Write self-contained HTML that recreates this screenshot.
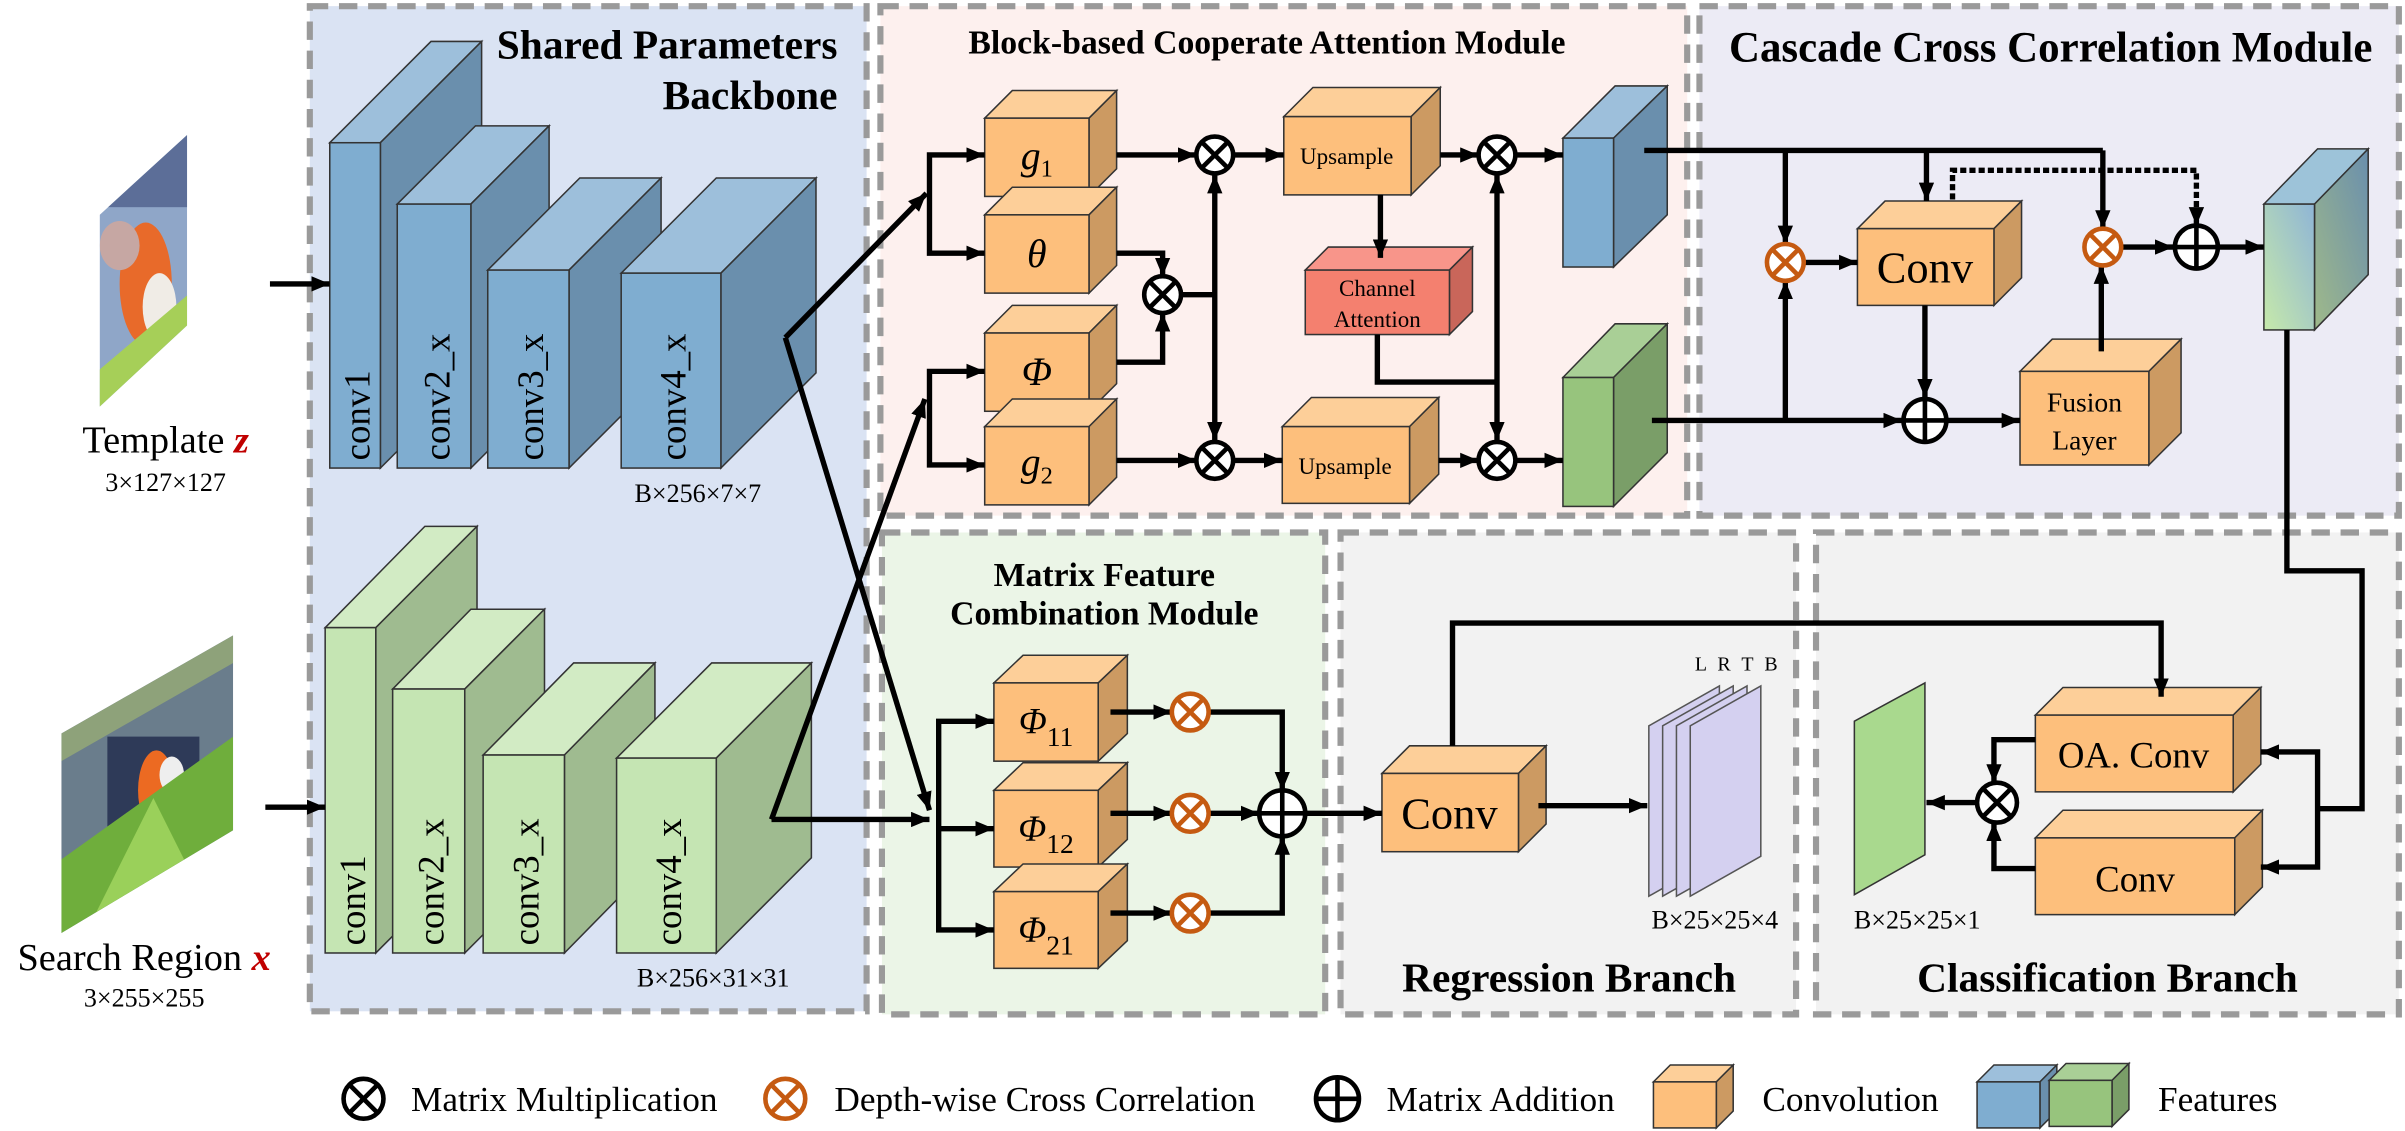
<!DOCTYPE html>
<html><head><meta charset="utf-8">
<style>
html,body{margin:0;padding:0;background:#fff;}
svg{display:block;}
text{font-family:"Liberation Serif",serif;}
</style></head>
<body>
<svg width="2405" height="1131" viewBox="0 0 1568 737" preserveAspectRatio="none" xmlns="http://www.w3.org/2000/svg" font-family="'Liberation Serif', serif">
<defs>
<marker id="a" viewBox="0 0 12 10" refX="12" refY="5" markerWidth="12" markerHeight="10" markerUnits="userSpaceOnUse" orient="auto-start-reverse"><path d="M0,0 L12,5 L0,10 z" fill="#000"/></marker>
<linearGradient id="og" x1="0" y1="1" x2="1" y2="0"><stop offset="0" stop-color="#c6e9aa"/><stop offset="1" stop-color="#8fb5d6"/></linearGradient>
<linearGradient id="ogs" x1="0" y1="1" x2="1" y2="0"><stop offset="0" stop-color="#9fb98a"/><stop offset="1" stop-color="#6a8fad"/></linearGradient>
<clipPath id="ct"><polygon points="65,140 122,88 122,212 65,265"/></clipPath>
<clipPath id="cs"><polygon points="40,478 152,414 152,541 40,608"/></clipPath>
</defs>

<!-- panels -->
<g stroke="#9a9a9a" stroke-width="4" stroke-dasharray="12 7">
<rect x="202" y="4" width="363" height="655" fill="#dae3f3"/>
<rect x="574" y="4" width="526" height="332" fill="#fdf0ee"/>
<rect x="1108" y="4" width="456" height="332" fill="#ecebf5"/>
<rect x="575" y="347" width="289" height="314" fill="#ebf5e7"/>
<rect x="874" y="347" width="297" height="314" fill="#f2f2f2"/>
<rect x="1184" y="347" width="380" height="314" fill="#f2f2f2"/>
</g>

<!-- titles -->
<g font-weight="bold" fill="#000">
<text x="546" y="38" font-size="27" text-anchor="end">Shared Parameters</text>
<text x="546" y="71" font-size="27" text-anchor="end">Backbone</text>
<text x="826" y="35" font-size="22" text-anchor="middle">Block-based Cooperate Attention Module</text>
<text x="1337" y="40" font-size="28" text-anchor="middle">Cascade Cross Correlation Module</text>
<text x="720" y="382" font-size="22" text-anchor="middle">Matrix Feature</text>
<text x="720" y="407" font-size="22" text-anchor="middle">Combination Module</text>
<text x="1023" y="646" font-size="27" text-anchor="middle">Regression Branch</text>
<text x="1374" y="646" font-size="27" text-anchor="middle">Classification Branch</text>
</g>

<!-- input images -->
<g clip-path="url(#ct)">
<rect x="60" y="85" width="70" height="185" fill="#8fa6c8"/>
<rect x="60" y="85" width="70" height="50" fill="#5c6e98"/>
<ellipse cx="95" cy="185" rx="17" ry="40" fill="#e86a2a"/>
<ellipse cx="104" cy="200" rx="11" ry="22" fill="#f0ece6"/>
<ellipse cx="78" cy="160" rx="13" ry="16" fill="#c6a7a3"/>
<polygon points="60,245 125,190 125,270 60,270" fill="#a6cf58"/>
</g>
<g clip-path="url(#cs)">
<rect x="36" y="410" width="120" height="200" fill="#6a7d8c"/>
<polygon points="40,478 152,414 152,432 40,496" fill="#8ea27a"/>
<rect x="70" y="480" width="60" height="60" fill="#2e3a58"/>
<ellipse cx="102" cy="515" rx="12" ry="26" fill="#ec6a22"/>
<ellipse cx="112" cy="505" rx="8" ry="12" fill="#eee"/>
<polygon points="40,560 152,480 152,541 40,610" fill="#6fae3c"/>
<polygon points="60,600 100,520 120,560 80,610" fill="#9ad05a"/>
</g>

<!-- labels left -->
<text x="108" y="295" font-size="25" text-anchor="middle">Template <tspan fill="#c00000" font-style="italic" font-weight="bold">z</tspan></text>
<text x="108" y="320" font-size="17" text-anchor="middle">3×127×127</text>
<text x="94" y="632" font-size="25" text-anchor="middle">Search Region <tspan fill="#c00000" font-style="italic" font-weight="bold">x</tspan></text>
<text x="94" y="656" font-size="17" text-anchor="middle">3×255×255</text>

<!-- backbone blue -->
<g stroke="#333" stroke-width="1">
<polygon points="215,93 281,27 314,27 248,93" fill="#9dbfdb"/><polygon points="248,93 314,27 314,239 248,305" fill="#6a8fad"/><rect x="215" y="93" width="33" height="212" fill="#7fadd0"/>
<polygon points="259,133 310,82 358,82 307,133" fill="#9dbfdb"/><polygon points="307,133 358,82 358,254 307,305" fill="#6a8fad"/><rect x="259" y="133" width="48" height="172" fill="#7fadd0"/>
<polygon points="318,176 378,116 431,116 371,176" fill="#9dbfdb"/><polygon points="371,176 431,116 431,245 371,305" fill="#6a8fad"/><rect x="318" y="176" width="53" height="129" fill="#7fadd0"/>
<polygon points="405,178 467,116 532,116 470,178" fill="#9dbfdb"/><polygon points="470,178 532,116 532,243 470,305" fill="#6a8fad"/><rect x="405" y="178" width="65" height="127" fill="#7fadd0"/>
<polygon points="212,409 277,343 311,343 245,409" fill="#d2ebc4"/><polygon points="245,409 311,343 311,555 245,621" fill="#9fbb90"/><rect x="212" y="409" width="33" height="212" fill="#c5e5b3"/>
<polygon points="256,449 307,397 355,397 303,449" fill="#d2ebc4"/><polygon points="303,449 355,397 355,569 303,621" fill="#9fbb90"/><rect x="256" y="449" width="47" height="172" fill="#c5e5b3"/>
<polygon points="315,492 374,432 427,432 368,492" fill="#d2ebc4"/><polygon points="368,492 427,432 427,561 368,621" fill="#9fbb90"/><rect x="315" y="492" width="53" height="129" fill="#c5e5b3"/>
<polygon points="402,494 464,432 529,432 467,494" fill="#d2ebc4"/><polygon points="467,494 529,432 529,559 467,621" fill="#9fbb90"/><rect x="402" y="494" width="65" height="127" fill="#c5e5b3"/>
</g>
<g font-size="24" fill="#000">
<text transform="translate(241,300) rotate(-90)">conv1</text>
<text transform="translate(293,300) rotate(-90)">conv2_x</text>
<text transform="translate(354,300) rotate(-90)">conv3_x</text>
<text transform="translate(447,300) rotate(-90)">conv4_x</text>
<text transform="translate(238,616) rotate(-90)">conv1</text>
<text transform="translate(289,616) rotate(-90)">conv2_x</text>
<text transform="translate(351,616) rotate(-90)">conv3_x</text>
<text transform="translate(444,616) rotate(-90)">conv4_x</text>
</g>
<text x="455" y="327" font-size="17" text-anchor="middle">B×256×7×7</text>
<text x="465" y="643" font-size="17" text-anchor="middle">B×256×31×31</text>

<!-- orange cubes -->
<g stroke="#333" stroke-width="1">
<polygon points="642,77 660,59 728,59 710,77" fill="#fdcf99"/><polygon points="710,77 728,59 728,110 710,128" fill="#cc9a62"/><rect x="642" y="77" width="68" height="51" fill="#fdbf7c"/>
<polygon points="642,140 660,122 728,122 710,140" fill="#fdcf99"/><polygon points="710,140 728,122 728,173 710,191" fill="#cc9a62"/><rect x="642" y="140" width="68" height="51" fill="#fdbf7c"/>
<polygon points="642,217 660,199 728,199 710,217" fill="#fdcf99"/><polygon points="710,217 728,199 728,250 710,268" fill="#cc9a62"/><rect x="642" y="217" width="68" height="51" fill="#fdbf7c"/>
<polygon points="642,278 660,260 728,260 710,278" fill="#fdcf99"/><polygon points="710,278 728,260 728,311 710,329" fill="#cc9a62"/><rect x="642" y="278" width="68" height="51" fill="#fdbf7c"/>
<polygon points="837,76 856,57 939,57 920,76" fill="#fdcf99"/><polygon points="920,76 939,57 939,108 920,127" fill="#cc9a62"/><rect x="837" y="76" width="83" height="51" fill="#fdbf7c"/>
<polygon points="836,278 855,259 938,259 919,278" fill="#fdcf99"/><polygon points="919,278 938,259 938,309 919,328" fill="#cc9a62"/><rect x="836" y="278" width="83" height="50" fill="#fdbf7c"/>
<polygon points="851,176 866,161 960,161 945,176" fill="#f8958a"/><polygon points="945,176 960,161 960,203 945,218" fill="#c9665a"/><rect x="851" y="176" width="94" height="42" fill="#f4806f"/>
<polygon points="1211,149 1229,131 1318,131 1300,149" fill="#fdcf99"/><polygon points="1300,149 1318,131 1318,181 1300,199" fill="#cc9a62"/><rect x="1211" y="149" width="89" height="50" fill="#fdbf7c"/>
<polygon points="1317,242 1338,221 1422,221 1401,242" fill="#fdcf99"/><polygon points="1401,242 1422,221 1422,282 1401,303" fill="#cc9a62"/><rect x="1317" y="242" width="84" height="61" fill="#fdbf7c"/>
<polygon points="648,445 667,427 735,427 716,445" fill="#fdcf99"/><polygon points="716,445 735,427 735,478 716,496" fill="#cc9a62"/><rect x="648" y="445" width="68" height="51" fill="#fdbf7c"/>
<polygon points="648,515 667,497 735,497 716,515" fill="#fdcf99"/><polygon points="716,515 735,497 735,547 716,565" fill="#cc9a62"/><rect x="648" y="515" width="68" height="50" fill="#fdbf7c"/>
<polygon points="648,581 667,563 735,563 716,581" fill="#fdcf99"/><polygon points="716,581 735,563 735,613 716,631" fill="#cc9a62"/><rect x="648" y="581" width="68" height="50" fill="#fdbf7c"/>
<polygon points="901,504 919,486 1008,486 990,504" fill="#fdcf99"/><polygon points="990,504 1008,486 1008,537 990,555" fill="#cc9a62"/><rect x="901" y="504" width="89" height="51" fill="#fdbf7c"/>
<polygon points="1327,466 1345,448 1474,448 1456,466" fill="#fdcf99"/><polygon points="1456,466 1474,448 1474,498 1456,516" fill="#cc9a62"/><rect x="1327" y="466" width="129" height="50" fill="#fdbf7c"/>
<polygon points="1327,546 1345,528 1475,528 1457,546" fill="#fdcf99"/><polygon points="1457,546 1475,528 1475,578 1457,596" fill="#cc9a62"/><rect x="1327" y="546" width="130" height="50" fill="#fdbf7c"/>
<polygon points="1019,90 1053,56 1087,56 1052,90" fill="#9dbfdb"/><polygon points="1052,90 1087,56 1087,140 1052,174" fill="#6a8fad"/><rect x="1019" y="90" width="33" height="84" fill="#7fadd0"/>
<polygon points="1019,246 1053,211 1087,211 1052,246" fill="#a9cf96"/><polygon points="1052,246 1087,211 1087,295 1052,330" fill="#7a9e68"/><rect x="1019" y="246" width="33" height="84" fill="#97c47d"/>
<polygon points="1476,133 1511,97 1544,97 1509,133" fill="#9dc3d9"/><polygon points="1509,133 1544,97 1544,179 1509,215" fill="url(#ogs)"/><rect x="1476" y="133" width="33" height="82" fill="url(#og)"/>
<polygon points="1075,584 1075,473 1121,447 1121,558" fill="#d4d0f0" stroke="#555"/>
<polygon points="1084,584 1084,473 1130,447 1130,558" fill="#d4d0f0" stroke="#555"/>
<polygon points="1093,584 1093,473 1139,447 1139,558" fill="#d4d0f0" stroke="#555"/>
<polygon points="1102,584 1102,473 1148,447 1148,558" fill="#d4d0f0" stroke="#555"/>
<polygon points="1209,583 1209,470 1255,445 1255,557" fill="#a9d98e" stroke="#333"/>
</g>

<!-- box labels -->
<g fill="#000" text-anchor="middle">
<text x="676" y="110" font-size="26" font-style="italic">g<tspan font-size="16" font-style="normal" dy="5">1</tspan></text>
<text x="676" y="174" font-size="26" font-style="italic">θ</text>
<text x="676" y="251" font-size="26" font-style="italic">Φ</text>
<text x="676" y="310" font-size="26" font-style="italic">g<tspan font-size="16" font-style="normal" dy="5">2</tspan></text>
<text x="878" y="107" font-size="15">Upsample</text>
<text x="877" y="309" font-size="15">Upsample</text>
<text x="898" y="193" font-size="15">Channel</text>
<text x="898" y="213" font-size="15">Attention</text>
<text x="1255" y="184" font-size="29">Conv</text>
<text x="1359" y="268" font-size="18">Fusion</text>
<text x="1359" y="293" font-size="18">Layer</text>
<text x="682" y="478" font-size="24"><tspan font-style="italic">Φ</tspan><tspan font-size="18" dy="8">11</tspan></text>
<text x="682" y="548" font-size="24"><tspan font-style="italic">Φ</tspan><tspan font-size="18" dy="8">12</tspan></text>
<text x="682" y="614" font-size="24"><tspan font-style="italic">Φ</tspan><tspan font-size="18" dy="8">21</tspan></text>
<text x="945" y="540" font-size="29">Conv</text>
<text x="1391" y="500" font-size="24">OA. Conv</text>
<text x="1392" y="581" font-size="24">Conv</text>
<text x="1133" y="437" font-size="13" letter-spacing="2">L R T B</text>
<text x="1118" y="605" font-size="17">B×25×25×4</text>
<text x="1250" y="605" font-size="17">B×25×25×1</text>
</g>

<!-- connectors -->
<g stroke="#000" stroke-width="3.5" fill="none">
<line x1="176" y1="185" x2="215" y2="185" marker-end="url(#a)"/>
<line x1="173" y1="526" x2="212" y2="526" marker-end="url(#a)"/>
<line x1="512" y1="220" x2="604" y2="126" marker-end="url(#a)"/>
<line x1="512" y1="220" x2="606" y2="528" marker-end="url(#a)"/>
<line x1="503" y1="534" x2="603" y2="260" marker-end="url(#a)"/>
<line x1="503" y1="534" x2="606" y2="534" marker-end="url(#a)"/>
<path d="M642,101 H606 V165 H642" marker-start="url(#a)" marker-end="url(#a)"/>
<path d="M642,242 H606 V303 H642" marker-start="url(#a)" marker-end="url(#a)"/>
<line x1="728" y1="101" x2="780" y2="101" marker-end="url(#a)"/>
<line x1="728" y1="300" x2="780" y2="300" marker-end="url(#a)"/>
<path d="M728,165 H758 V180" marker-end="url(#a)"/>
<path d="M728,236 H758 V204" marker-end="url(#a)"/>
<line x1="770" y1="192" x2="792" y2="192"/>
<line x1="792" y1="114" x2="792" y2="287" marker-start="url(#a)" marker-end="url(#a)"/>
<line x1="804" y1="101" x2="837" y2="101" marker-end="url(#a)"/>
<line x1="804" y1="300" x2="836" y2="300" marker-end="url(#a)"/>
<line x1="939" y1="101" x2="964" y2="101" marker-end="url(#a)"/>
<line x1="938" y1="300" x2="964" y2="300" marker-end="url(#a)"/>
<line x1="900" y1="127" x2="900" y2="168" marker-end="url(#a)"/>
<path d="M898,218 V249 H976"/>
<line x1="976" y1="114" x2="976" y2="287" marker-start="url(#a)" marker-end="url(#a)"/>
<line x1="988" y1="101" x2="1019" y2="101" marker-end="url(#a)"/>
<line x1="988" y1="300" x2="1019" y2="300" marker-end="url(#a)"/>
<line x1="1072" y1="98" x2="1371" y2="98"/>
<line x1="1164" y1="98" x2="1164" y2="159" marker-end="url(#a)"/>
<line x1="1256" y1="98" x2="1256" y2="131" marker-end="url(#a)"/>
<line x1="1371" y1="98" x2="1371" y2="149" marker-end="url(#a)"/>
<line x1="1176" y1="171" x2="1211" y2="171" marker-end="url(#a)"/>
<line x1="1255" y1="199" x2="1255" y2="259" marker-end="url(#a)"/>
<line x1="1077" y1="274" x2="1240" y2="274" marker-end="url(#a)"/>
<line x1="1164" y1="274" x2="1164" y2="183" marker-end="url(#a)"/>
<line x1="1270" y1="274" x2="1317" y2="274" marker-end="url(#a)"/>
<line x1="1370" y1="229" x2="1370" y2="173" marker-end="url(#a)"/>
<line x1="1383" y1="161" x2="1417" y2="161" marker-end="url(#a)"/>
<line x1="1447" y1="161" x2="1476" y2="161" marker-end="url(#a)"/>
<path d="M1491,215 V372 H1540 V527 H1511"/>
<path d="M1474,490 H1511 V565 H1474" marker-start="url(#a)" marker-end="url(#a)"/>
<path d="M648,470 H612 V606 H648" marker-start="url(#a)" marker-end="url(#a)"/>
<line x1="612" y1="540" x2="648" y2="540" marker-end="url(#a)"/>
<line x1="724" y1="464" x2="764" y2="464" marker-end="url(#a)"/>
<line x1="724" y1="530" x2="764" y2="530" marker-end="url(#a)"/>
<line x1="724" y1="595" x2="764" y2="595" marker-end="url(#a)"/>
<path d="M788,464 H836 V515" marker-end="url(#a)"/>
<line x1="788" y1="530" x2="821" y2="530" marker-end="url(#a)"/>
<path d="M788,595 H836 V545" marker-end="url(#a)"/>
<line x1="851" y1="530" x2="901" y2="530" marker-end="url(#a)"/>
<path d="M947,486 V406 H1409 V454" marker-end="url(#a)"/>
<line x1="1003" y1="525" x2="1074" y2="525" marker-end="url(#a)"/>
<path d="M1327,482 H1300 V510" marker-end="url(#a)"/>
<path d="M1327,566 H1300 V536" marker-end="url(#a)"/>
<line x1="1289" y1="523" x2="1256" y2="523" marker-end="url(#a)"/>
</g>
<path d="M1273,130 V111 H1432 V147" stroke="#000" stroke-width="3.5" fill="none" stroke-dasharray="4 2" marker-end="url(#a)"/>

<!-- operators -->
<g stroke-width="3" fill="#fff">
<g stroke="#000">
<circle cx="792" cy="101" r="12"/><circle cx="792" cy="300" r="12"/><circle cx="758" cy="192" r="12"/>
<circle cx="976" cy="101" r="12"/><circle cx="976" cy="300" r="12"/><circle cx="1302" cy="523" r="13"/>
<circle cx="237" cy="716" r="13"/>
</g>
<g stroke="#c55a11">
<circle cx="1164" cy="171" r="12"/><circle cx="1371" cy="161" r="12"/>
<circle cx="776" cy="464" r="12"/><circle cx="776" cy="530" r="12"/><circle cx="776" cy="595" r="12"/>
<circle cx="512" cy="716" r="13"/>
</g>
<g stroke="#000">
<circle cx="1255" cy="274" r="14"/><circle cx="1432" cy="161" r="14"/><circle cx="836" cy="530" r="15"/><circle cx="872" cy="716" r="14"/>
</g>
</g>
<g stroke-width="3">
<path stroke="#000" d="M783.5,92.5 l17,17 m0,-17 l-17,17 M783.5,291.5 l17,17 m0,-17 l-17,17 M749.5,183.5 l17,17 m0,-17 l-17,17 M967.5,92.5 l17,17 m0,-17 l-17,17 M967.5,291.5 l17,17 m0,-17 l-17,17 M1293,514 l18,18 m0,-18 l-18,18 M228,707 l18,18 m0,-18 l-18,18"/>
<path stroke="#c55a11" d="M1155.5,162.5 l17,17 m0,-17 l-17,17 M1362.5,152.5 l17,17 m0,-17 l-17,17 M767.5,455.5 l17,17 m0,-17 l-17,17 M767.5,521.5 l17,17 m0,-17 l-17,17 M767.5,586.5 l17,17 m0,-17 l-17,17 M503,707 l18,18 m0,-18 l-18,18"/>
<path stroke="#000" d="M1241,274 h28 M1255,260 v28 M1418,161 h28 M1432,147 v28 M821,530 h30 M836,515 v30 M858,716 h28 M872,702 v28"/>
</g>

<!-- legend -->
<g font-size="23" fill="#000">
<text x="268" y="724">Matrix Multiplication</text>
<text x="544" y="724">Depth-wise Cross Correlation</text>
<text x="904" y="724">Matrix Addition</text>
<text x="1149" y="724">Convolution</text>
<text x="1407" y="724">Features</text>
</g>
<g stroke="#333" stroke-width="1">
<polygon points="1078,705 1089,694 1130,694 1119,705" fill="#fdcf99"/><polygon points="1119,705 1130,694 1130,724 1119,735" fill="#cc9a62"/><rect x="1078" y="705" width="41" height="30" fill="#fdbf7c"/>
<polygon points="1289,705 1300,694 1341,694 1330,705" fill="#9dbfdb"/><polygon points="1330,705 1341,694 1341,724 1330,735" fill="#6a8fad"/><rect x="1289" y="705" width="41" height="30" fill="#7fadd0"/>
<polygon points="1336,704 1347,693 1388,693 1377,704" fill="#a9cf96"/><polygon points="1377,704 1388,693 1388,723 1377,734" fill="#7a9e68"/><rect x="1336" y="704" width="41" height="30" fill="#97c47d"/>
</g>
</svg>
</body></html>
